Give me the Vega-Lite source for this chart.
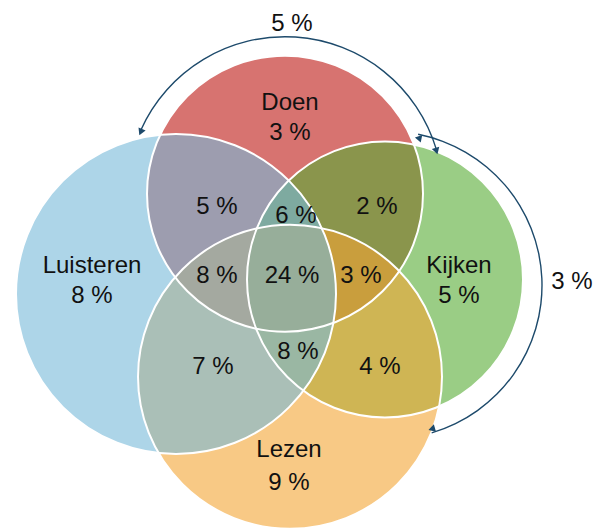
{
  "$schema": "https://vega.github.io/schema/vega-lite/v6.json",
  "autosize": {"type": "fit", "contains": "padding"},
  "width": 599,
  "height": 529,
  "padding": 0,
  "background": "white",
  "config": {"view": {"stroke": null}},
  "datasets": {
    "sets": [
      {"set": "Doen", "x": 285, "y": 199},
      {"set": "Kijken", "x": 385, "y": 287},
      {"set": "Lezen", "x": 290, "y": 387},
      {"set": "Luisteren", "x": 176, "y": 302}
    ],
    "labels": [
      {"label": "5 %", "x": 292, "y": 25},
      {"label": "Doen", "x": 290, "y": 106},
      {"label": "3 %", "x": 290, "y": 137},
      {"label": "5 %", "x": 217, "y": 213},
      {"label": "6 %", "x": 296, "y": 222},
      {"label": "2 %", "x": 377, "y": 213},
      {"label": "Luisteren", "x": 92, "y": 273},
      {"label": "8 %", "x": 92, "y": 304},
      {"label": "8 %", "x": 217, "y": 283},
      {"label": "24 %", "x": 292, "y": 283},
      {"label": "3 %", "x": 361, "y": 283},
      {"label": "Kijken", "x": 459, "y": 273},
      {"label": "5 %", "x": 459, "y": 304},
      {"label": "3 %", "x": 572, "y": 290},
      {"label": "7 %", "x": 213, "y": 377},
      {"label": "8 %", "x": 298, "y": 362},
      {"label": "4 %", "x": 380, "y": 377},
      {"label": "Lezen", "x": 289, "y": 462},
      {"label": "9 %", "x": 289, "y": 496}
    ],
    "arcs": [
      {"arrow": "Doen-Luisteren", "x": 285, "y": 200},
      {"arrow": "Kijken-Lezen", "x": 388, "y": 293}
    ],
    "heads": [
      {"arrow": "Doen-Luisteren", "end": "start", "x": 140.7, "y": 135.7, "heading": 204},
      {"arrow": "Doen-Luisteren", "end": "end", "x": 436.5, "y": 155.1, "heading": 163.5},
      {"arrow": "Kijken-Lezen", "end": "start", "x": 418.2, "y": 141.9, "heading": 281.3},
      {"arrow": "Kijken-Lezen", "end": "end", "x": 431.7, "y": 440.7, "heading": 253.5}
    ]
  },
  "encoding": {
    "x": {"field": "x", "type": "quantitative", "scale": {"domain": [0, 599], "nice": false, "zero": false}, "axis": null},
    "y": {"field": "y", "type": "quantitative", "scale": {"domain": [0, 529], "nice": false, "zero": false, "reverse": true}, "axis": null}
  },
  "layer": [
    {
      "data": {"name": "sets"},
      "mark": {"type": "point", "shape": "circle", "filled": true, "fillOpacity": 0.6, "strokeWidth": 0},
      "encoding": {
        "color": {"field": "set", "type": "nominal", "legend": null,
          "scale": {"domain": ["Doen", "Kijken", "Lezen", "Luisteren"], "range": ["#BC1611", "#57AC34", "#F3A534", "#76B9D9"]}},
        "size": {"field": "set", "type": "nominal", "legend": null,
          "scale": {"type": "ordinal", "domain": ["Doen", "Kijken", "Lezen", "Luisteren"], "range": [76176, 76176, 92416, 102400]}}
      }
    },
    {
      "data": {"name": "sets"},
      "mark": {"type": "point", "shape": "circle", "filled": false, "stroke": "white", "strokeWidth": 2, "opacity": 1},
      "encoding": {
        "size": {"field": "set", "type": "nominal", "legend": null,
          "scale": {"type": "ordinal", "domain": ["Doen", "Kijken", "Lezen", "Luisteren"], "range": [76176, 76176, 92416, 102400]}}
      }
    },
    {
      "data": {"name": "arcs"},
      "transform": [{"filter": "datum.arrow == 'Doen-Luisteren'"}],
      "mark": {"type": "arc", "theta": -1.15, "theta2": 1.283, "radius": 158.7, "radius2": 157.3, "color": "#1D4A6B"},
      "encoding": {}
    },
    {
      "data": {"name": "arcs"},
      "transform": [{"filter": "datum.arrow == 'Kijken-Lezen'"}],
      "mark": {"type": "arc", "theta": 0.197, "theta2": 2.854, "radius": 154.7, "radius2": 153.3, "color": "#1D4A6B"},
      "encoding": {}
    },
    {
      "data": {"name": "heads"},
      "mark": {"type": "point", "shape": "triangle-up", "filled": true, "size": 60, "color": "#1D4A6B", "opacity": 1},
      "encoding": {
        "angle": {"field": "heading", "type": "quantitative", "scale": null}
      }
    },
    {
      "data": {"name": "labels"},
      "mark": {"type": "text", "font": "Liberation Sans", "fontSize": 24, "color": "#111111", "align": "center", "baseline": "middle"},
      "encoding": {
        "text": {"field": "label", "type": "nominal"}
      }
    }
  ]
}
